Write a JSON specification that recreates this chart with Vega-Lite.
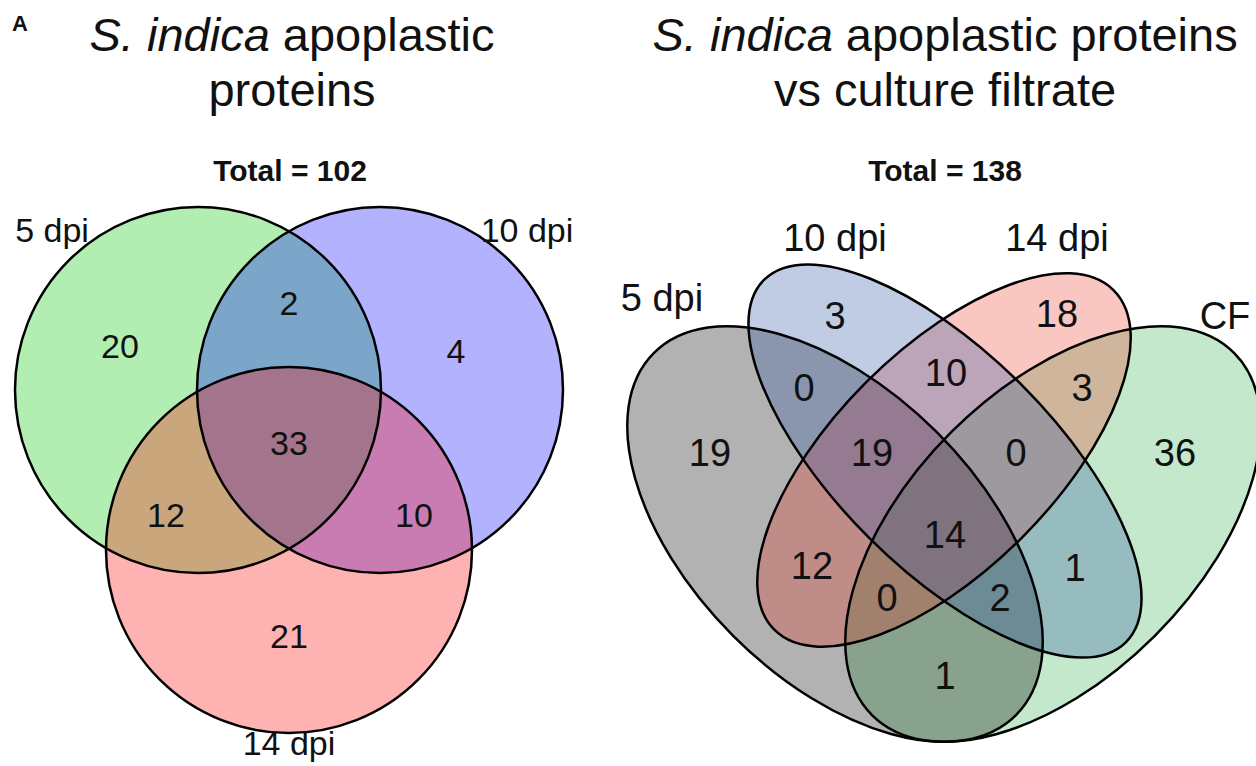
{
  "$schema": "https://vega.github.io/schema/vega-lite/v6.json",
  "width": 1256,
  "height": 766,
  "autosize": {"type": "none"},
  "padding": 0,
  "background": "white",
  "config": {"view": {"stroke": null}, "font": "Liberation Sans"},
  "datasets": {
    "circles": [
      {"set": "5 dpi", "x": 198, "y": 390},
      {"set": "10 dpi", "x": 380, "y": 390},
      {"set": "14 dpi", "x": 289, "y": 550}
    ],
    "ellipses": [
      {"set": "5 dpi", "x": 835, "y": 534},
      {"set": "10 dpi", "x": 945, "y": 461},
      {"set": "14 dpi", "x": 944, "y": 460},
      {"set": "CF", "x": 1053, "y": 534}
    ],
    "counts3": [
      {"n": 20, "x": 120, "y": 348},
      {"n": 2, "x": 289, "y": 305},
      {"n": 4, "x": 456, "y": 353},
      {"n": 33, "x": 289, "y": 445},
      {"n": 12, "x": 166, "y": 517},
      {"n": 10, "x": 414, "y": 517},
      {"n": 21, "x": 289, "y": 638}
    ],
    "counts4": [
      {"n": 19, "x": 710, "y": 455},
      {"n": 3, "x": 835, "y": 318},
      {"n": 0, "x": 804, "y": 390},
      {"n": 10, "x": 946, "y": 375},
      {"n": 18, "x": 1057, "y": 316},
      {"n": 3, "x": 1082, "y": 390},
      {"n": 19, "x": 872, "y": 455},
      {"n": 0, "x": 1016, "y": 455},
      {"n": 36, "x": 1175, "y": 455},
      {"n": 14, "x": 945, "y": 537},
      {"n": 12, "x": 812, "y": 568},
      {"n": 0, "x": 887, "y": 600},
      {"n": 2, "x": 1000, "y": 600},
      {"n": 1, "x": 1075, "y": 570},
      {"n": 1, "x": 945, "y": 678}
    ],
    "labels3": [
      {"label": "5 dpi", "x": 52, "y": 232},
      {"label": "10 dpi", "x": 527, "y": 232},
      {"label": "14 dpi", "x": 289, "y": 745}
    ],
    "labels4": [
      {"label": "5 dpi", "x": 662, "y": 300},
      {"label": "10 dpi", "x": 835, "y": 240},
      {"label": "14 dpi", "x": 1057, "y": 240},
      {"label": "CF", "x": 1225, "y": 318}
    ],
    "italic": [
      {"t": "S. indica", "x": 89.5, "y": 51},
      {"t": "S. indica", "x": 652.5, "y": 51}
    ],
    "roman": [
      {"t": "apoplastic", "x": 282.8, "y": 51},
      {"t": "apoplastic proteins", "x": 845.8, "y": 51}
    ],
    "centered": [
      {"t": "proteins", "x": 292, "y": 106},
      {"t": "vs culture filtrate", "x": 945, "y": 106}
    ],
    "totals": [
      {"t": "Total = 102", "x": 290, "y": 172},
      {"t": "Total = 138", "x": 945, "y": 172}
    ],
    "tag": [{"t": "A", "x": 20, "y": 24}]
  },
  "encoding": {
    "x": {"field": "x", "type": "quantitative", "scale": {"domain": [0, 1256], "nice": false, "zero": false}, "axis": null},
    "y": {"field": "y", "type": "quantitative", "scale": {"domain": [0, 766], "nice": false, "zero": false, "reverse": true}, "axis": null}
  },
  "layer": [
    {
      "data": {"name": "circles"},
      "mark": {"type": "point", "shape": "circle", "filled": true, "size": 133956, "opacity": 1, "fillOpacity": 0.3, "strokeWidth": 0},
      "encoding": {
        "color": {"field": "set", "type": "nominal", "scale": {"domain": ["5 dpi", "10 dpi", "14 dpi"], "range": ["#00c800", "#0000ff", "#ff0000"]}, "legend": null}
      }
    },
    {
      "data": {"name": "circles"},
      "mark": {"type": "point", "shape": "circle", "filled": false, "size": 133956, "opacity": 1, "stroke": "black", "strokeWidth": 2.5}
    },
    {
      "data": {"name": "ellipses"},
      "transform": [{"filter": "datum.set === 'CF'"}],
      "mark": {"type": "point", "shape": "M1,0C1,0.3107 0.5523,0.5625 0,0.5625C-0.5523,0.5625 -1,0.3107 -1,0C-1,-0.3107 -0.5523,-0.5625 0,-0.5625C0.5523,-0.5625 1,-0.3107 1,0Z", "filled": true, "size": 262144, "angle": -45, "opacity": 1, "fillOpacity": 0.3, "strokeWidth": 0, "color": "#3ab255"}
    },
    {
      "data": {"name": "ellipses"},
      "transform": [{"filter": "datum.set === '5 dpi'"}],
      "mark": {"type": "point", "shape": "M1,0C1,0.3107 0.5523,0.5625 0,0.5625C-0.5523,0.5625 -1,0.3107 -1,0C-1,-0.3107 -0.5523,-0.5625 0,-0.5625C0.5523,-0.5625 1,-0.3107 1,0Z", "filled": true, "size": 262144, "angle": 45, "opacity": 1, "fillOpacity": 0.3, "strokeWidth": 0, "color": "#000000"}
    },
    {
      "data": {"name": "ellipses"},
      "transform": [{"filter": "datum.set === '14 dpi'"}],
      "mark": {"type": "point", "shape": "M1,0C1,0.2531 0.5523,0.4583 0,0.4583C-0.5523,0.4583 -1,0.2531 -1,0C-1,-0.2531 -0.5523,-0.4583 0,-0.4583C0.5523,-0.4583 1,-0.2531 1,0Z", "filled": true, "size": 230400, "angle": -45, "opacity": 1, "fillOpacity": 0.25, "strokeWidth": 0, "color": "#eb1a0a"}
    },
    {
      "data": {"name": "ellipses"},
      "transform": [{"filter": "datum.set === '10 dpi'"}],
      "mark": {"type": "point", "shape": "M1,0C1,0.2330 0.5523,0.4219 0,0.4219C-0.5523,0.4219 -1,0.2330 -1,0C-1,-0.2330 -0.5523,-0.4219 0,-0.4219C0.5523,-0.4219 1,-0.2330 1,0Z", "filled": true, "size": 262144, "angle": 45, "opacity": 1, "fillOpacity": 0.3, "strokeWidth": 0, "color": "#2d55a5"}
    },
    {
      "data": {"name": "ellipses"},
      "transform": [{"filter": "datum.set === '5 dpi'"}],
      "mark": {"type": "point", "shape": "M1,0C1,0.3107 0.5523,0.5625 0,0.5625C-0.5523,0.5625 -1,0.3107 -1,0C-1,-0.3107 -0.5523,-0.5625 0,-0.5625C0.5523,-0.5625 1,-0.3107 1,0Z", "filled": false, "size": 262144, "angle": 45, "opacity": 1, "stroke": "black", "strokeWidth": 2.5}
    },
    {
      "data": {"name": "ellipses"},
      "transform": [{"filter": "datum.set === '10 dpi'"}],
      "mark": {"type": "point", "shape": "M1,0C1,0.2330 0.5523,0.4219 0,0.4219C-0.5523,0.4219 -1,0.2330 -1,0C-1,-0.2330 -0.5523,-0.4219 0,-0.4219C0.5523,-0.4219 1,-0.2330 1,0Z", "filled": false, "size": 262144, "angle": 45, "opacity": 1, "stroke": "black", "strokeWidth": 2.5}
    },
    {
      "data": {"name": "ellipses"},
      "transform": [{"filter": "datum.set === '14 dpi'"}],
      "mark": {"type": "point", "shape": "M1,0C1,0.2531 0.5523,0.4583 0,0.4583C-0.5523,0.4583 -1,0.2531 -1,0C-1,-0.2531 -0.5523,-0.4583 0,-0.4583C0.5523,-0.4583 1,-0.2531 1,0Z", "filled": false, "size": 230400, "angle": -45, "opacity": 1, "stroke": "black", "strokeWidth": 2.5}
    },
    {
      "data": {"name": "ellipses"},
      "transform": [{"filter": "datum.set === 'CF'"}],
      "mark": {"type": "point", "shape": "M1,0C1,0.3107 0.5523,0.5625 0,0.5625C-0.5523,0.5625 -1,0.3107 -1,0C-1,-0.3107 -0.5523,-0.5625 0,-0.5625C0.5523,-0.5625 1,-0.3107 1,0Z", "filled": false, "size": 262144, "angle": -45, "opacity": 1, "stroke": "black", "strokeWidth": 2.5}
    },
    {
      "data": {"name": "counts3"},
      "mark": {"type": "text", "fontSize": 34, "align": "center", "baseline": "middle", "color": "#111111"},
      "encoding": {"text": {"field": "n", "type": "quantitative"}}
    },
    {
      "data": {"name": "counts4"},
      "mark": {"type": "text", "fontSize": 38, "align": "center", "baseline": "middle", "color": "#111111"},
      "encoding": {"text": {"field": "n", "type": "quantitative"}}
    },
    {
      "data": {"name": "labels3"},
      "mark": {"type": "text", "fontSize": 34, "align": "center", "baseline": "middle", "color": "#111111"},
      "encoding": {"text": {"field": "label", "type": "nominal"}}
    },
    {
      "data": {"name": "labels4"},
      "mark": {"type": "text", "fontSize": 38, "align": "center", "baseline": "middle", "color": "#111111"},
      "encoding": {"text": {"field": "label", "type": "nominal"}}
    },
    {
      "data": {"name": "italic"},
      "mark": {"type": "text", "fontSize": 47, "fontStyle": "italic", "align": "left", "baseline": "alphabetic", "color": "#111111"},
      "encoding": {"text": {"field": "t", "type": "nominal"}}
    },
    {
      "data": {"name": "roman"},
      "mark": {"type": "text", "fontSize": 47, "align": "left", "baseline": "alphabetic", "color": "#111111"},
      "encoding": {"text": {"field": "t", "type": "nominal"}}
    },
    {
      "data": {"name": "centered"},
      "mark": {"type": "text", "fontSize": 47, "align": "center", "baseline": "alphabetic", "color": "#111111"},
      "encoding": {"text": {"field": "t", "type": "nominal"}}
    },
    {
      "data": {"name": "totals"},
      "mark": {"type": "text", "fontSize": 30, "fontWeight": "bold", "align": "center", "baseline": "middle", "color": "#111111"},
      "encoding": {"text": {"field": "t", "type": "nominal"}}
    },
    {
      "data": {"name": "tag"},
      "mark": {"type": "text", "fontSize": 22, "fontWeight": "bold", "align": "center", "baseline": "middle", "color": "#111111"},
      "encoding": {"text": {"field": "t", "type": "nominal"}}
    }
  ]
}
